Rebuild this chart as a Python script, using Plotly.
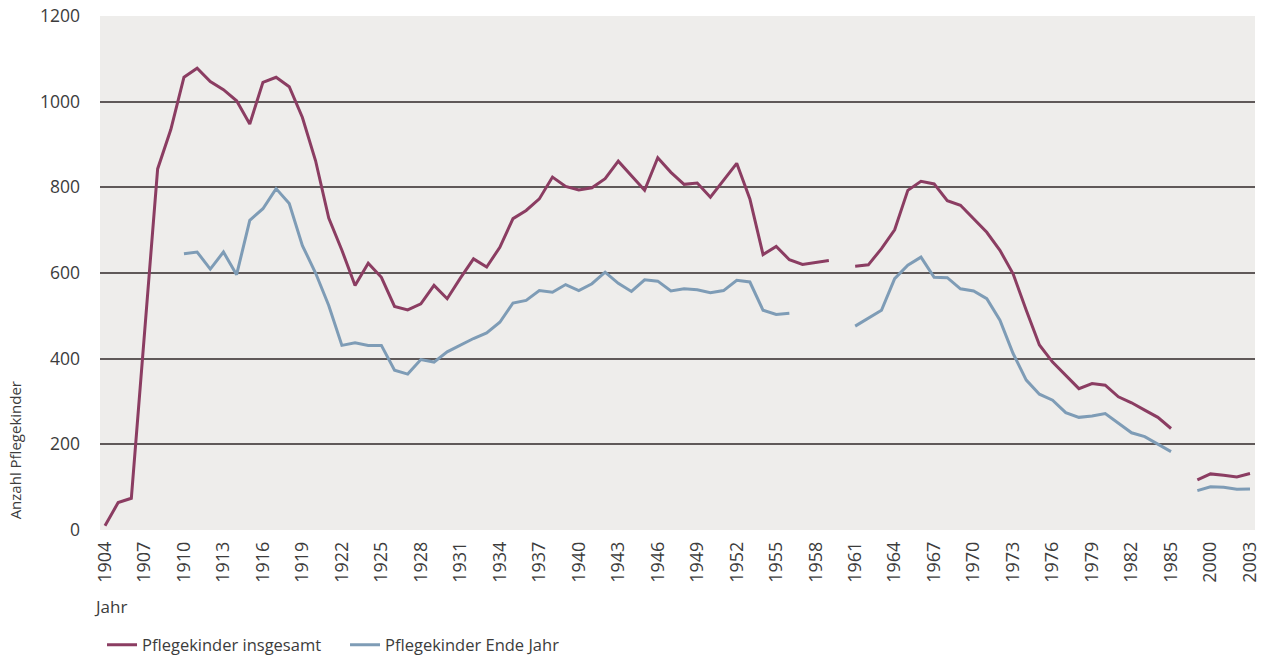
import plotly.graph_objects as go

years = [str(y) for y in range(1904, 1986)] + ["1986", "1999", "2000", "2001", "2002", "2003"]

insgesamt = [
    10, 64, 74, 460, 843, 935, 1057, 1078, 1047, 1028,          # 1904-1913
    1002, 948, 1045, 1057, 1035, 963, 862, 728, 653, 571,        # 1914-1923
    623, 590, 522, 514, 528, 571, 540, 588, 633, 614,            # 1924-1933
    660, 727, 746, 773, 824, 802, 794, 799, 820, 861,            # 1934-1943
    828, 793, 869, 835, 807, 810, 777, 817, 856, 773,            # 1944-1953
    643, 662, 631, 620, 625, 629, None, 616, 619, 657,           # 1954-1963
    701, 793, 814, 808, 769, 758, 727, 695, 653, 598,            # 1964-1973
    513, 432, 392, 361, 330, 342, 338, 311, 297, 280,            # 1974-1983
    263, 237,                                                    # 1984-1985
    None, 117, 131, 128, 124, 132,                               # gap, 1999, 2000-2003
]

ende_jahr = [
    None, None, None, None, None, None, 645, 649, 609, 649,      # 1904-1913
    596, 723, 750, 797, 762, 664, 600, 524, 431, 437,            # 1914-1923
    431, 431, 373, 364, 398, 392, 416, 431, 447, 460,            # 1924-1933
    485, 530, 536, 559, 555, 573, 559, 575, 602, 576,            # 1934-1943
    557, 584, 581, 558, 563, 561, 554, 559, 583, 579,            # 1944-1953
    513, 503, 506, None, None, None, None, 476, 495, 513,        # 1954-1963
    587, 618, 637, 590, 589, 563, 558, 540, 490, 412,            # 1964-1973
    350, 317, 303, 274, 263, 266, 272, 249, 227, 218,            # 1974-1983
    200, 183,                                                    # 1984-1985
    None, 92, 101, 100, 95, 96,                                  # gap, 1999, 2000-2003
]

x_ticks = years[::3]
y_ticks = [0, 200, 400, 600, 800, 1000, 1200]
grid_vals = [200, 400, 600, 800, 1000]

RED = "#8B3D62"
BLUE = "#7E9CB6"
TEXT = "#3C3C3C"
FONT = "Open Sans"

fig = go.Figure()
fig.add_trace(go.Scatter(x=years, y=insgesamt, mode="lines", name="Pflegekinder insgesamt",
                         line=dict(color=RED, width=3), connectgaps=False))
fig.add_trace(go.Scatter(x=years, y=ende_jahr, mode="lines", name="Pflegekinder Ende Jahr",
                         line=dict(color=BLUE, width=3), connectgaps=False))
# invisible trace on overlay axis so that grid lines are only drawn at inner values
fig.add_trace(go.Scatter(x=[years[0]], y=[None], yaxis="y2", showlegend=False, hoverinfo="skip"))

fig.update_layout(
    width=1261, height=655,
    margin=dict(l=100, r=0, t=16, b=125),
    paper_bgcolor="white",
    plot_bgcolor="#EEEDEB",
    font=dict(family=FONT, size=17, color=TEXT),
    showlegend=True,
    legend=dict(orientation="h", xref="container", yref="container",
                x=0.0809, xanchor="left", y=0.0153, yanchor="middle",
                font=dict(size=16.5, color=TEXT), entrywidth=198, entrywidthmode="pixels",
                bgcolor="rgba(0,0,0,0)"),
    xaxis=dict(type="category", categoryorder="array", categoryarray=years,
               range=[-0.38, 87.38], tickmode="array", tickvals=x_ticks, ticktext=x_ticks,
               tickangle=-90, showgrid=False, zeroline=False, showline=False,
               ticks="", ticklabelstandoff=7, ticklabeloverflow="allow",
               tickfont=dict(size=18, color=TEXT)),
    yaxis=dict(range=[0, 1200], tickmode="array", tickvals=y_ticks, showgrid=False,
               zeroline=False, showline=False, ticks="", ticklabelstandoff=19,
               ticklabeloverflow="allow", tickfont=dict(size=17.5, color=TEXT)),
    yaxis2=dict(range=[0, 1200], overlaying="y", side="left", tickmode="array",
                tickvals=grid_vals, showticklabels=False, showgrid=True,
                gridcolor="#5F5959", gridwidth=1.5, zeroline=False, showline=False,
                layer="below traces"),
    annotations=[
        dict(text="Anzahl Pflegekinder", xref="paper", yref="paper", x=-0.074, y=0.154,
             xanchor="center", yanchor="middle", textangle=-90, showarrow=False,
             font=dict(size=15, color=TEXT)),
        dict(text="Jahr", xref="paper", yref="paper", x=-0.0073, y=-0.148,
             xanchor="left", yanchor="middle", showarrow=False,
             font=dict(size=17, color=TEXT)),
    ],
)

fig.write_html("out.html", config={"displayModeBar": False},
               post_script="document.body.style.margin='0';document.body.style.overflow='hidden';")
